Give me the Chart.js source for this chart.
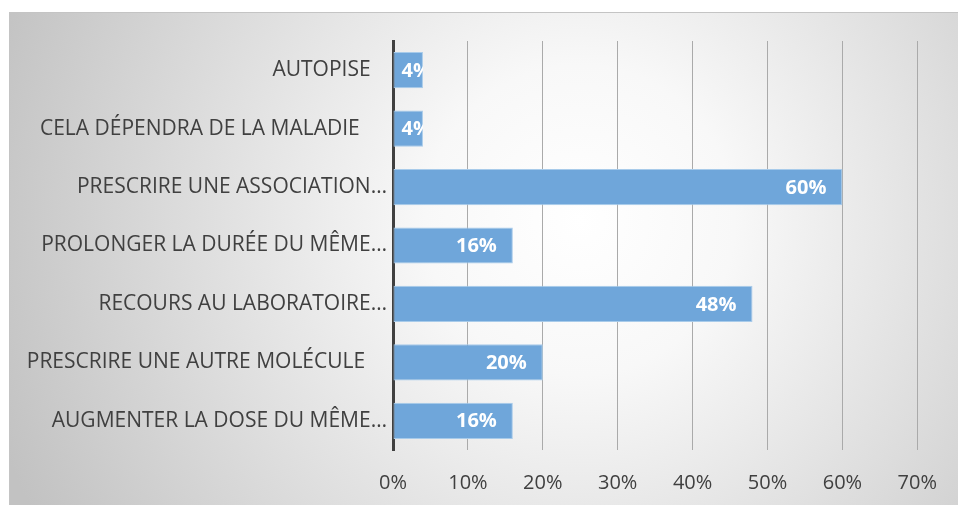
<!DOCTYPE html>
<html><head><meta charset="utf-8">
<script src="https://cdn.jsdelivr.net/npm/chart.js@4"></script>
<style>html,body{margin:0;padding:0;background:#fff}#wrap{width:958px;height:505px;position:relative}</style>
</head><body><div id="wrap"><canvas id="c" width="958" height="505"></canvas></div>
<script>
const categories = [
  "AUTOPISE   ",
  "CELA DÉPENDRA DE LA MALADIE     ",
  "PRESCRIRE UNE ASSOCIATION…",
  "PROLONGER LA DURÉE DU MÊME…",
  "RECOURS AU LABORATOIRE…",
  "PRESCRIRE UNE AUTRE MOLÉCULE    ",
  "AUGMENTER LA DOSE DU MÊME…"
];
const values = [4, 4, 60, 16, 48, 20, 16];
const tickValues = [0, 10, 20, 30, 40, 50, 60, 70];

const FONT = "'Open Sans', 'Liberation Sans', sans-serif";

const bgPlugin = {
  id: 'bg',
  beforeDraw(chart) {
    const ctx = chart.ctx;
    ctx.save();
    ctx.fillStyle = '#ffffff';
    ctx.fillRect(0, 0, chart.width, chart.height);
    const g = ctx.createRadialGradient(580, 220, 0, 580, 220, 620);
    g.addColorStop(0, '#ffffff');
    g.addColorStop(0.25, '#f8f8f8');
    g.addColorStop(1, '#c2c2c2');
    ctx.fillStyle = g;
    ctx.fillRect(9, 12, 949, 493);
    ctx.strokeStyle = '#c4c4c4';
    ctx.lineWidth = 1;
    ctx.strokeRect(9.5, 12.5, 960, 500);
    ctx.restore();
  }
};

const labelPlugin = {
  id: 'barLabels',
  afterDatasetsDraw(chart) {
    const ctx = chart.ctx;
    const meta = chart.getDatasetMeta(0);
    ctx.save();
    ctx.font = "bold 20px " + FONT;
    ctx.fillStyle = '#ffffff';
    ctx.textBaseline = 'middle';
    meta.data.forEach((bar, i) => {
      const txt = values[i] + '%';
      const w = ctx.measureText(txt).width;
      const left = Math.min(bar.base, bar.x);
      const right = Math.max(bar.base, bar.x);
      let x = right - 16 - w;
      if (x < left + 8) x = left + 8;
      ctx.save();
      ctx.beginPath();
      ctx.rect(left, bar.y - bar.height / 2, right - left, bar.height);
      ctx.clip();
      ctx.textAlign = 'left';
      ctx.fillText(txt, x, bar.y + 1);
      ctx.restore();
    });
    ctx.restore();
  }
};

new Chart(document.getElementById('c'), {
  type: 'bar',
  data: {
    labels: categories,
    datasets: [{
      data: values,
      backgroundColor: '#6fa6da',
      borderColor: '#a8cbea',
      borderWidth: 1,
      borderSkipped: false,
      barPercentage: 0.62,
      categoryPercentage: 1
    }]
  },
  options: {
    indexAxis: 'y',
    responsive: false,
    animation: false,
    events: [],
    layout: { padding: { left: 0, right: 38, top: 41, bottom: 0 } },
    plugins: { legend: { display: false }, tooltip: { enabled: false } },
    scales: {
      x: {
        min: 0, max: 70,
        afterBuildTicks(scale) { scale.ticks = tickValues.map(v => ({ value: v })); },
        afterFit(scale) { scale.height = 55; },
        grid: { color: '#aaaaaa', lineWidth: 1, drawTicks: false },
        border: { display: false },
        ticks: {
          padding: 21,
          color: '#404040',
          font: { family: FONT, size: 20 },
          callback: v => v + '%'
        }
      },
      y: {
        afterFit(scale) { scale.width = 393; },
        grid: { display: false, drawTicks: false },
        border: { display: true, color: '#404040', width: 3 },
        ticks: {
          padding: 6,
          color: '#404040',
          autoSkip: false,
          font: { family: FONT, size: 21 }
        }
      }
    }
  },
  plugins: [bgPlugin, labelPlugin]
});
</script>
</body></html>
